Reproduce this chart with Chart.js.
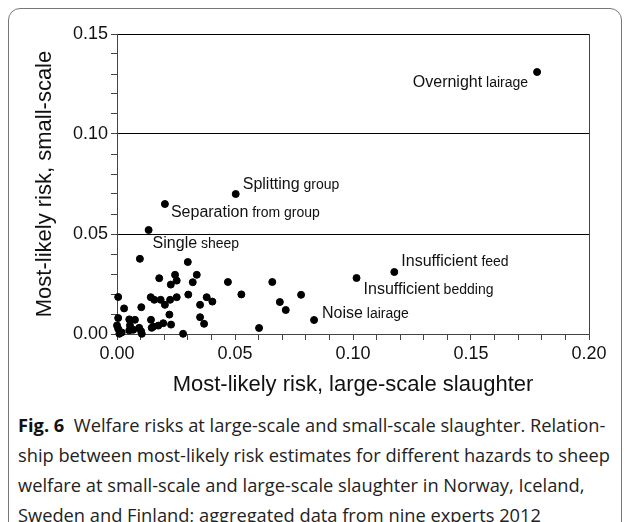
<!DOCTYPE html>
<html>
<head>
<meta charset="utf-8">
<script src="https://cdn.jsdelivr.net/npm/chart.js@4"></script>
<style>
  html, body { margin: 0; padding: 0; background: #fff; }
  body { width: 630px; height: 522px; overflow: hidden; position: relative; }
  #frame { position: absolute; left: 8px; top: 8px; width: 612px; height: 560px;
           border: 1.5px solid #777; border-radius: 12px; }
  #chart { position: absolute; left: 0; top: 0; }
  #caption { position: absolute; left: 18px; top: 410px; font-family: "Open Sans"; font-size: 17px;
             color: #222; line-height: 30px; white-space: nowrap; }
  #caption b { color: #111; }
</style>
</head>
<body>
<div id="frame"></div>
<canvas id="chart" width="630" height="400"></canvas>
<div id="caption">
  <div><b>Fig. 6</b>&nbsp; Welfare risks at large-scale and small-scale slaughter. Relation-</div>
  <div id="capRef">ship between most-likely risk estimates for different hazards to sheep</div>
  <div>welfare at small-scale and large-scale slaughter in Norway, Iceland,</div>
  <div>Sweden and Finland; aggregated data from nine experts 2012</div>
</div>
<script>
// hazards: only the named ones get a label on the chart
const hazardNames = [
  "Overnight lairage", "Splitting group", "Separation from group", "Single sheep",
  "Insufficient feed", "Insufficient bedding", "Noise lairage",
  "", "", "", "", "", "", "", "", "", "", "", "", "", "", "", "", "", "", "", "", "", "",
  "", "", "", "", "", "", "", "", "", "", "", "", "", "", "", "", "", "", "", "", "", "",
  "", "", "", "", "", "", ""
];
// most-likely risk, large-scale slaughter (x)
const largeScale = [
  0.178, 0.0503, 0.0203, 0.0134, 0.1175, 0.1015, 0.0835,
  0.078, 0.047, 0.0527, 0.0602, 0.0658, 0.069, 0.0715, 0.0097, 0.030, 0.0005, 0.003,
  0.0005, 0.0, 0.0005, 0.001, 0.002, 0.0052, 0.0055, 0.0052, 0.0076, 0.0069, 0.0094,
  0.0102, 0.0105, 0.0103, 0.0143, 0.0158, 0.0185, 0.0179, 0.0144, 0.0147, 0.0154,
  0.0175, 0.0196, 0.0203, 0.0225, 0.0222, 0.0229, 0.0228, 0.0246, 0.0253, 0.0253,
  0.028, 0.0302, 0.0321, 0.0338, 0.0352, 0.0352, 0.0369, 0.038, 0.0404
];
// most-likely risk, small-scale slaughter (y)
const smallScale = [
  0.131, 0.070, 0.065, 0.052, 0.031, 0.028, 0.007,
  0.0196, 0.026, 0.0198, 0.003, 0.026, 0.016, 0.012, 0.0376, 0.036, 0.0185, 0.0128,
  0.008, 0.0043, 0.0026, 0.0001, 0.0008, 0.0073, 0.0043, 0.0018, 0.0071, 0.0021, 0.0031,
  0.0014, 0.0001, 0.0134, 0.0184, 0.0171, 0.0171, 0.0279, 0.0071, 0.0031, 0.0037,
  0.0042, 0.0054, 0.0146, 0.0171, 0.0097, 0.0047, 0.0247, 0.0296, 0.0267, 0.0184,
  0.0001, 0.0197, 0.0259, 0.0296, 0.0146, 0.0084, 0.0051, 0.0184, 0.0162
];

const points = largeScale.map((x, i) => ({ x: x, y: smallScale[i] }));

// where each label sits relative to its dot (baseline offsets)
const labelPlace = {
  "Overnight lairage":     { dx: -9, dy: 15, align: "right" },
  "Splitting group":       { dx: 7,  dy: -5 },
  "Separation from group": { dx: 6,  dy: 13 },
  "Single sheep":          { dx: 4,  dy: 18 },
  "Insufficient feed":     { dx: 7,  dy: -6 },
  "Insufficient bedding":  { dx: 7,  dy: 16 },
  "Noise lairage":         { dx: 8,  dy: -2 }
};

const FONT = "'Liberation Sans', Arial, sans-serif";

const pointLabels = {
  id: "pointLabels",
  afterDatasetsDraw(chart) {
    const ctx = chart.ctx;
    const meta = chart.getDatasetMeta(0);
    ctx.save();
    ctx.fillStyle = "#111";
    ctx.textBaseline = "alphabetic";
    ctx.textAlign = "left";
    hazardNames.forEach((name, i) => {
      if (!name) return;
      const p = meta.data[i];
      const pl = labelPlace[name] || { dx: 6, dy: 0 };
      const sp = name.indexOf(" ");
      const big = name.slice(0, sp), small = name.slice(sp);
      ctx.font = "16px " + FONT;
      const wBig = ctx.measureText(big).width;
      ctx.font = "14px " + FONT;
      const wSmall = ctx.measureText(small).width;
      let x = p.x + pl.dx;
      if (pl.align === "right") x -= wBig + wSmall;
      const y = p.y + pl.dy;
      ctx.font = "16px " + FONT;
      ctx.fillText(big, x, y);
      ctx.font = "14px " + FONT;
      ctx.fillText(small, x + wBig, y);
    });
    ctx.restore();
  }
};

const isMajor = v => Math.round(v * 100) % 5 === 0;

new Chart("chart", {
  type: "scatter",
  data: {
    datasets: [{
      data: points,
      backgroundColor: "#000",
      borderColor: "#000",
      pointRadius: 3.5,
      pointHoverRadius: 3.5,
      clip: false
    }]
  },
  options: {
    responsive: false,
    animation: false,
    layout: { padding: { top: 34, right: 41, left: 0, bottom: 0 } },
    scales: {
      x: {
        min: 0, max: 0.2,
        afterFit: s => { s.height = 66; },
        ticks: {
          stepSize: 0.01, autoSkip: false, maxRotation: 0, padding: 3,
          color: "#111", font: { family: FONT, size: 18 },
          callback: v => isMajor(v) ? v.toFixed(2) : ""
        },
        grid: {
          tickLength: 6, tickColor: "#444",
          color: c => (c.tick && Math.round(c.tick.value * 100) === 20) ? "#444" : "rgba(0,0,0,0)"
        },
        border: { color: "#444", width: 1 },
        title: {
          display: true, text: "Most-likely risk, large-scale slaughter",
          color: "#111", font: { family: FONT, size: 22 }, padding: { top: 0, bottom: 2 }
        }
      },
      y: {
        min: 0, max: 0.15,
        afterFit: s => { s.width = 117; },
        ticks: {
          stepSize: 0.01, autoSkip: false, padding: 3,
          color: "#111", font: { family: FONT, size: 18 },
          callback: v => isMajor(v) ? v.toFixed(2) : ""
        },
        grid: {
          tickLength: 6, tickColor: "#444",
          color: c => {
            if (!c.tick) return "rgba(0,0,0,0)";
            const k = Math.round(c.tick.value * 100);
            return (k === 5 || k === 10 || k === 15) ? "#000" : "rgba(0,0,0,0)";
          }
        },
        border: { color: "#444", width: 1 },
        title: {
          display: true, text: "Most-likely risk, small-scale",
          color: "#111", font: { family: FONT, size: 22 }, padding: { top: 32, bottom: 0 }
        }
      }
    },
    plugins: {
      legend: { display: false },
      tooltip: { enabled: false }
    }
  },
  plugins: [pointLabels]
});

// size the caption so the second line spans like the original
const ref = document.getElementById("capRef");
const span = document.createElement("span");
span.textContent = ref.textContent;
ref.textContent = "";
ref.appendChild(span);
const cap = document.getElementById("caption");
const fs = 17 * 592 / span.getBoundingClientRect().width;
cap.style.fontSize = fs.toFixed(2) + "px";
</script>
</body>
</html>
